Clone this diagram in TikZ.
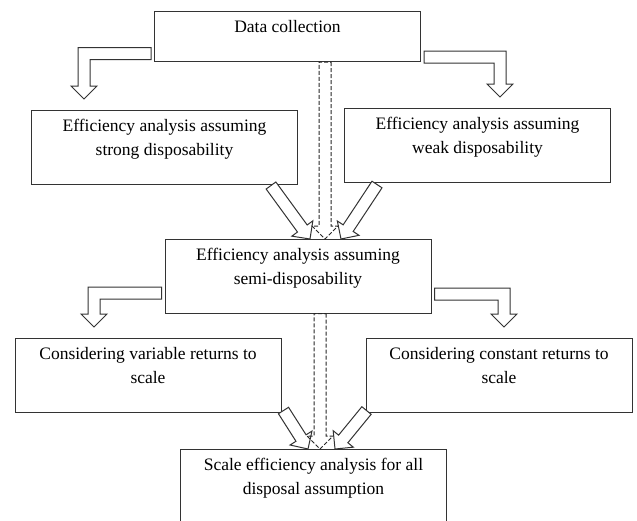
\documentclass[tikz,border=0pt]{standalone}
\usepackage{fontspec}
\setmainfont{Liberation Serif}
\usetikzlibrary{calc}

% hollow block arrow from #2 to #3
\newcommand{\blockarrow}[3][]{%
  \coordinate (hb) at ($(#3)!13pt!(#2)$);
  \draw[arr,#1] ($(#2)!6pt!90:(#3)$) -- ($(hb)!6pt!-90:(#2)$) -- ($(hb)!13pt!-90:(#2)$) -- (#3)
    -- ($(hb)!13pt!90:(#2)$) -- ($(hb)!6pt!90:(#2)$) -- ($(#2)!6pt!-90:(#3)$) -- cycle;}

% hollow elbow arrow: out of side #1, bend at #2, down onto #3; #4 = 1 right, -1 left
\newcommand{\elbowarrow}[4]{%
  \coordinate (et0) at (#1 |- #2);
  \coordinate (et) at ($(et0)+({#4*3},0)$);
  \coordinate (ep0) at (#2 |- #3);
  \coordinate (ep) at ($(ep0)+(0,-11)$);
  \draw[arr] ($(et)+(0,-6)$) -- ($(#2)+({#4*6},-6)$) -- ($(ep)+({#4*6},-13)$) -- ($(ep)+({#4*13},-13)$) -- (ep)
    -- ($(ep)+({#4*(-13)},-13)$) -- ($(ep)+({#4*(-6)},-13)$) -- ($(#2)+({#4*(-6)},6)$) -- ($(et)+(0,6)$) -- cycle;}

\begin{document}
\begin{tikzpicture}[x=1pt, y=-1pt, font=\fontsize{17.5}{24}\selectfont,
    b/.style={draw=black!80, line width=1pt, anchor=north, inner sep=0pt,
      execute at begin node={\begin{minipage}[t][#1][t]{266pt}\centering\vspace*{9pt}},
      execute at end node={\end{minipage}}},
    b/.default=73.5pt,
    arr/.style={draw=black!80, line width=1pt, fill=white},
    dsh/.style={fill=none, draw=black!85, dash pattern=on 4pt off 2pt}]
  \useasboundingbox (0,0) rectangle (637,520);
  \node[b=50pt] (dc) at (287.5,11) {Data collection};
  \node[b] (sd) at (164.5,110) {Efficiency analysis assuming\\ strong disposability};
  \node[b] (wd) at (477.5,108) {Efficiency analysis assuming\\ weak disposability};
  \node[b] (semi) at (298,239) {Efficiency analysis assuming\\ semi-disposability};
  \node[b] (vrs) at (148,338) {Considering variable returns to\\ scale};
  \node[b] (crs) at (499,338) {Considering constant returns to\\ scale};
  \node[b] (se) at (313.5,449) {Scale efficiency analysis for all\\ disposal assumption};

  % bends of the side arrows
  \coordinate (k1) at (84,53.5);  \coordinate (k2) at (500,57);
  \coordinate (k3) at (94,293);   \coordinate (k4) at (504,294);
  % ends of the straight arrows
  \coordinate (t1) at ($(sd.south east)+(-27,1)$);  \coordinate (h1) at ($(semi.north)+(12,0)$);
  \coordinate (t2) at ($(wd.south west)+(33,2)$);   \coordinate (h2) at ($(semi.north)+(43,0)$);
  \coordinate (t3) at ($(vrs.south east)+(2,-2)$); \coordinate (h3) at ($(se.north)+(-5.5,0)$);
  \coordinate (t4) at ($(crs.south west)+(1,-2)$);  \coordinate (h4) at ($(se.north)+(21.5,0)$);
  \coordinate (d1) at ($(dc.south)+(37.5,0)$);      \coordinate (e1) at ($(semi.north)+(27,0)$);
  \coordinate (d2) at ($(semi.south)+(22,0)$);      \coordinate (e2) at ($(se.north)+(6.5,0)$);

  \elbowarrow{dc.west}{k1}{sd.north}{-1}
  \elbowarrow{dc.east}{k2}{wd.north}{1}
  \elbowarrow{semi.west}{k3}{vrs.north}{-1}
  \elbowarrow{semi.east}{k4}{crs.north}{1}
  \blockarrow{t1}{h1} \blockarrow{t2}{h2}
  \blockarrow{t3}{h3} \blockarrow{t4}{h4}
  \blockarrow[dsh]{d1}{e1} \blockarrow[dsh]{d2}{e2}
\end{tikzpicture}
\end{document}
